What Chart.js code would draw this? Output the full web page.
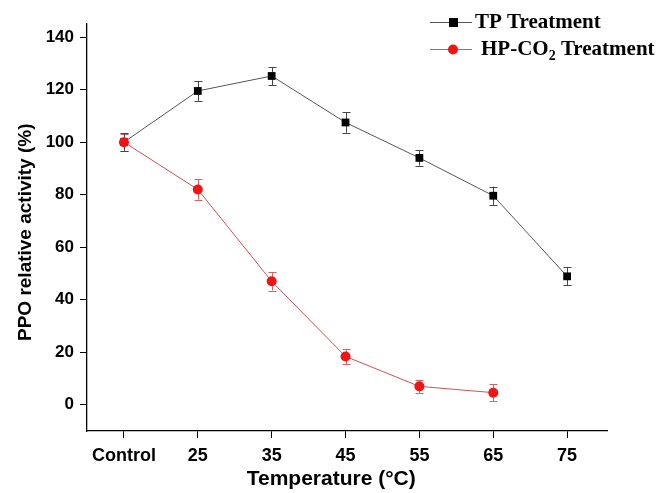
<!DOCTYPE html>
<html>
<head>
<meta charset="utf-8">
<script src="https://cdn.jsdelivr.net/npm/chart.js@4"></script>
<style>
  html, body { margin: 0; padding: 0; background: #fff; }
  #wrap { width: 660px; height: 493px; position: relative; }
</style>
</head>
<body>
<div id="wrap"><canvas id="c" width="660" height="493"></canvas></div>
<script>
// ---- data ----
const categories = ["Control", "25", "35", "45", "55", "65", "75"];
const tpValues   = [100, 119.5, 125.2, 107.5, 94, 79.6, 48.9];
const tpErrors   = [3.3, 3.8, 3.4, 3.9, 2.9, 3.5, 3.4];
const hpValues   = [100, 82, 47, 18.4, 7, 4.6];
const hpErrors   = [3.2, 3.9, 3.5, 2.9, 2.5, 3.2];
const yTickValues = [0, 20, 40, 60, 80, 100, 120, 140];
const seriesNames = ["TP Treatment", "HP-CO", "2", " Treatment"];

const tpPoints = tpValues.map((v, i) => ({x: i, y: v}));
const hpPoints = hpValues.map((v, i) => ({x: i, y: v}));

const errorBarPlugin = {
  id: 'errorBars',
  beforeDatasetsDraw(chart) {
    const ctx = chart.ctx;
    const ys = chart.scales.y;
    chart.data.datasets.forEach((ds, di) => {
      const meta = chart.getDatasetMeta(di);
      const errs = ds.errors || [];
      ctx.save();
      ctx.strokeStyle = ds.errorColor;
      ctx.lineWidth = 1;
      meta.data.forEach((pt, i) => {
        const e = errs[i];
        if (e == null) return;
        const v = ds.data[i].y;
        const x = Math.round(pt.x) + 0.5;
        const y1 = ys.getPixelForValue(v + e);
        const y2 = ys.getPixelForValue(v - e);
        ctx.beginPath();
        ctx.moveTo(x, y1); ctx.lineTo(x, y2);
        ctx.moveTo(x - 4, Math.round(y1) + 0.5); ctx.lineTo(x + 4, Math.round(y1) + 0.5);
        ctx.moveTo(x - 4, Math.round(y2) + 0.5); ctx.lineTo(x + 4, Math.round(y2) + 0.5);
        ctx.stroke();
      });
      ctx.restore();
    });
  }
};

const legendPlugin = {
  id: 'customLegend',
  afterDraw(chart) {
    const ctx = chart.ctx;
    const big = 'bold 21px "Liberation Serif", "Times New Roman", serif';
    ctx.save();
    // row 1
    let y = 22;
    ctx.strokeStyle = '#555'; ctx.lineWidth = 1;
    ctx.beginPath(); ctx.moveTo(430, y + 0.5); ctx.lineTo(472, y + 0.5); ctx.stroke();
    ctx.fillStyle = '#000';
    ctx.fillRect(449, y - 4, 9, 9);
    ctx.font = big;
    ctx.textBaseline = 'middle';
    ctx.textAlign = 'left';
    ctx.fillText(seriesNames[0], 475, y + 1);
    // row 2
    y = 49;
    ctx.strokeStyle = 'rgb(205,90,90)';
    ctx.beginPath(); ctx.moveTo(430, y + 0.5); ctx.lineTo(472, y + 0.5); ctx.stroke();
    ctx.fillStyle = 'rgb(240,20,20)';
    ctx.beginPath(); ctx.arc(453, y + 0.5, 5, 0, Math.PI * 2); ctx.fill();
    ctx.fillStyle = '#000';
    let x = 481;
    ctx.fillText(seriesNames[1], x, y + 1);
    x += ctx.measureText(seriesNames[1]).width;
    ctx.font = 'bold 14px "Liberation Serif", "Times New Roman", serif';
    ctx.fillText(seriesNames[2], x, y + 7);
    x += ctx.measureText(seriesNames[2]).width;
    ctx.font = big;
    ctx.fillText(seriesNames[3], x, y + 1);
    ctx.restore();
  }
};

const yTickFont = {family: '"Liberation Sans", Arial, sans-serif', size: 17, weight: 'bold'};
const xTickFont = {family: '"Liberation Sans", Arial, sans-serif', size: 18, weight: 'bold'};
const xTitleFont = {family: '"Liberation Sans", Arial, sans-serif', size: 21, weight: 'bold'};
const yTitleFont = {family: '"Liberation Sans", Arial, sans-serif', size: 19, weight: 'bold'};

new Chart(document.getElementById('c'), {
  type: 'line',
  data: {
    datasets: [
      {
        label: 'HP-CO2 Treatment',
        data: hpPoints,
        errors: hpErrors,
        errorColor: 'rgb(215,100,100)',
        borderColor: 'rgb(200,85,85)',
        borderWidth: 1,
        pointStyle: 'circle',
        pointRadius: 5,
        pointBackgroundColor: 'rgb(240,20,20)',
        pointBorderColor: 'rgb(240,20,20)',
        pointBorderWidth: 0,
        tension: 0,
        order: 0
      },
      {
        label: 'TP Treatment',
        data: tpPoints,
        errors: tpErrors,
        errorColor: '#444',
        borderColor: '#555',
        borderWidth: 1,
        pointStyle: 'rect',
        pointRadius: 5.5,
        pointBackgroundColor: '#000',
        pointBorderColor: '#000',
        pointBorderWidth: 0,
        tension: 0,
        order: 1
      }
    ]
  },
  options: {
    responsive: false,
    animation: false,
    events: [],
    layout: { padding: { left: 0, right: 53, top: 24, bottom: 0 } },
    plugins: { legend: { display: false }, tooltip: { enabled: false } },
    scales: {
      x: {
        type: 'linear',
        min: -0.5,
        max: 6.54,
        afterFit(scale) { scale.height = 62; },
        afterBuildTicks(scale) { scale.ticks = categories.map((c, i) => ({value: i})); },
        ticks: {
          autoSkip: false,
          maxRotation: 0,
          color: '#000',
          font: xTickFont,
          padding: 7,
          callback: (v) => categories[v]
        },
        grid: { drawOnChartArea: false, drawTicks: true, tickLength: 7, tickColor: '#000', tickWidth: 1 },
        border: { display: true, color: '#000', width: 1.3 },
        title: { display: true, text: 'Temperature (°C)\u2002\u2002\u2002', color: '#000', font: xTitleFont, padding: {top: 0, bottom: 1} }
      },
      y: {
        type: 'linear',
        min: -10,
        max: 145,
        afterFit(scale) { scale.width = 87; },
        afterBuildTicks(scale) { scale.ticks = yTickValues.map(v => ({value: v})); },
        ticks: { color: '#000', font: yTickFont, padding: 6 },
        grid: { drawOnChartArea: false, drawTicks: true, tickLength: 7, tickColor: '#000', tickWidth: 1 },
        border: { display: true, color: '#000', width: 1.3 },
        title: { display: true, text: 'PPO relative activity (%)\u2002', color: '#000', font: yTitleFont, padding: {top: 14, bottom: 0} }
      }
    }
  },
  plugins: [errorBarPlugin, legendPlugin]
});
</script>
</body>
</html>
